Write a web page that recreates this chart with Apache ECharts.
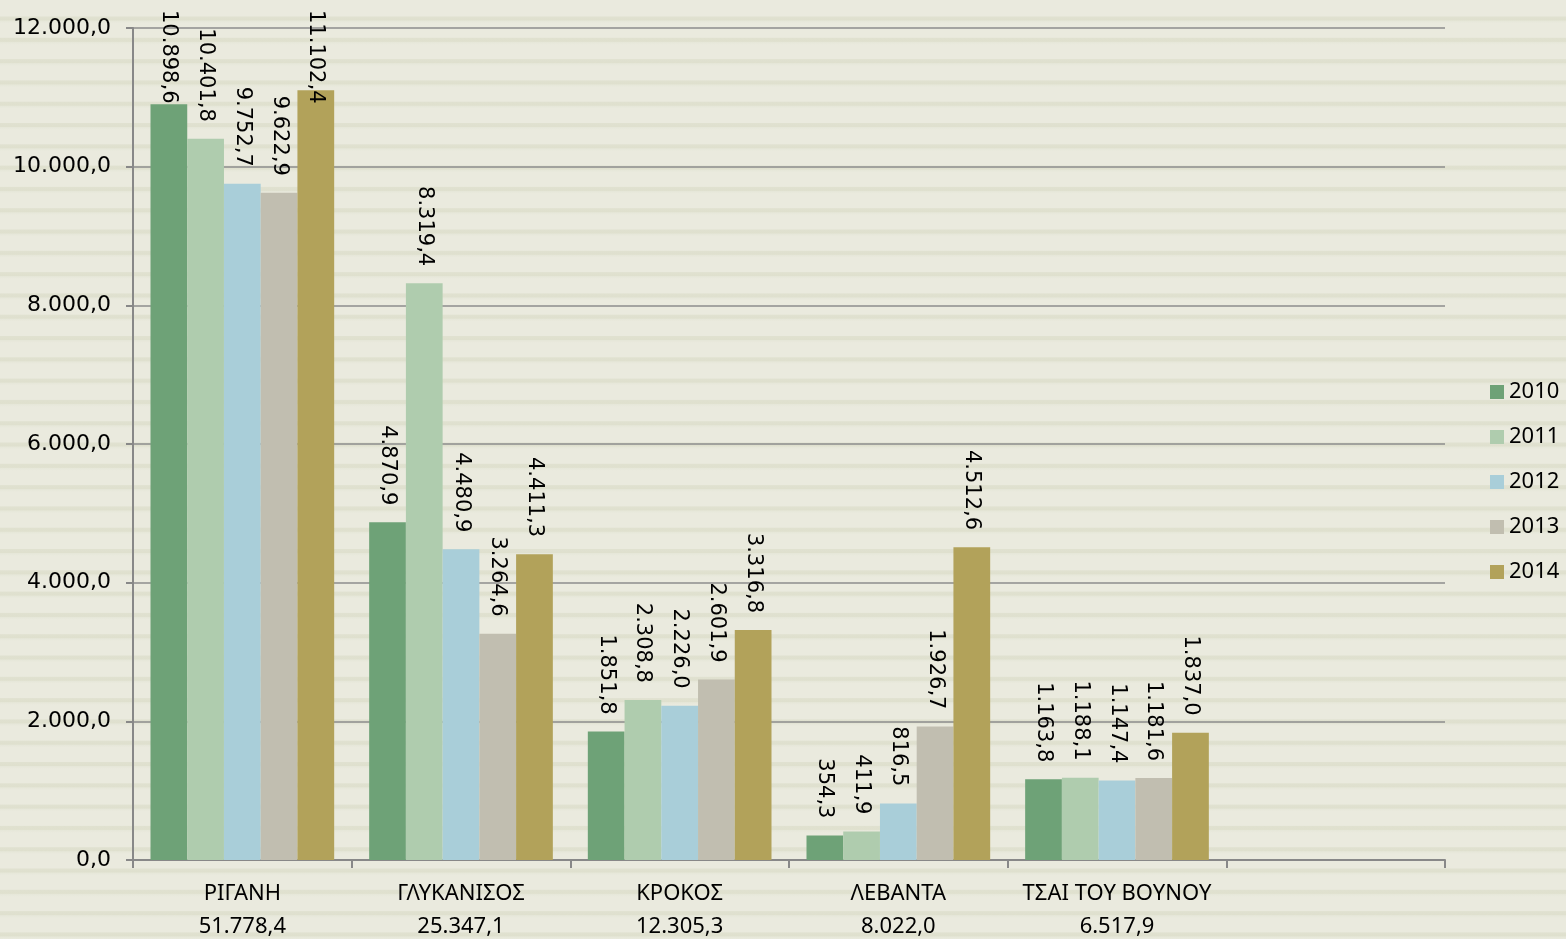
<!DOCTYPE html>
<html>
<head>
<meta charset="utf-8">
<script src="https://cdn.jsdelivr.net/npm/echarts@6/dist/echarts.min.js"></script>
<style>
html,body{margin:0;padding:0;}
body{
  width:1566px;height:939px;overflow:hidden;
  background-color:#EAEADE;
  background-image:repeating-linear-gradient(to bottom,
    #EAEADE 0px, #EAEADE 14px,
    #E0E1D0 15px, #DFE0CE 18px,
    #E6E7D9 19px, #EAEADE 21.3px);
  background-position:0 2px;
}
#chart{width:1566px;height:939px;}
</style>
</head>
<body>
<div id="chart"></div>
<script>
const categories = ['ΡΙΓΑΝΗ', 'ΓΛΥΚΑΝΙΣΟΣ', 'ΚΡΟΚΟΣ', 'ΛΕΒΑΝΤΑ', 'ΤΣΑΙ ΤΟΥ ΒΟΥΝΟΥ', ''];
const totals = [51778.4, 25347.1, 12305.3, 8022.0, 6517.9];
const years = ['2010', '2011', '2012', '2013', '2014'];
const v2010 = [10898.6, 4870.9, 1851.8, 354.3, 1163.8];
const v2011 = [10401.8, 8319.4, 2308.8, 411.9, 1188.1];
const v2012 = [9752.7, 4480.9, 2226.0, 816.5, 1147.4];
const v2013 = [9622.9, 3264.6, 2601.9, 1926.7, 1181.6];
const v2014 = [11102.4, 4411.3, 3316.8, 4512.6, 1837.0];
const yTicks = {min: 0, max: 12000, interval: 2000};

const seriesValues = [v2010, v2011, v2012, v2013, v2014];
const colors = ['#6EA277', '#AFCCAE', '#A9CED9', '#C1BEB0', '#B2A25A'];

function fmt(v) {
  const s = Number(v).toFixed(1);
  const parts = s.split('.');
  const intPart = parts[0].replace(/\B(?=(\d{3})+(?!\d))/g, '.');
  return intPart + ',' + parts[1];
}

const LABEL_DIST = 17;
const TOP_LIMIT = 10;
const LABEL_FONT = '21px "DejaVu Sans"';

const chart = echarts.init(document.getElementById('chart'));

function buildSeries(offsets) {
  return years.map((y, i) => ({
    name: y,
    type: 'bar',
    data: seriesValues[i].map((v, j) => {
      const off = offsets ? offsets[i][j] : 0;
      // label is rotated -90deg, so local x points down the screen
      return off ? {value: v, label: {offset: [off, 0]}} : v;
    }),
    barGap: '0%',
    barCategoryGap: '16%',
    itemStyle: {color: colors[i]},
    label: {
      show: true,
      position: 'top',
      rotate: -90,
      align: 'right',
      verticalAlign: 'middle',
      distance: LABEL_DIST,
      fontFamily: 'DejaVu Sans',
      fontSize: 21,
      color: '#000',
      formatter: p => fmt(p.value)
    }
  }));
}

chart.setOption({
  backgroundColor: 'transparent',
  animation: false,
  grid: {left: 133, right: 121, top: 28, bottom: 79, outerBoundsMode: 'none', containLabel: false},
  legend: {
    data: years,
    orient: 'vertical',
    left: 1485,
    top: 376,
    itemWidth: 14,
    itemHeight: 14,
    itemGap: 23,
    icon: 'rect',
    textStyle: {fontFamily: 'Noto Sans', fontSize: 22, color: '#000'}
  },
  xAxis: {
    type: 'category',
    data: categories,
    axisLine: {lineStyle: {color: '#888', width: 2}},
    axisTick: {show: true, length: 8, lineStyle: {color: '#888', width: 2}},
    axisLabel: {
      interval: 0,
      margin: 17,
      fontFamily: 'Noto Sans',
      fontSize: 22,
      lineHeight: 33,
      color: '#000',
      formatter: (val, idx) => val ? val + '\n' + fmt(totals[idx]) : ''
    }
  },
  yAxis: {
    type: 'value',
    min: yTicks.min,
    max: yTicks.max,
    interval: yTicks.interval,
    axisLine: {show: true, lineStyle: {color: '#888', width: 2}},
    axisTick: {show: true, length: 7, lineStyle: {color: '#888', width: 2}},
    splitLine: {lineStyle: {color: '#8C8C8C', width: 1.5}},
    axisLabel: {
      margin: 22,
      fontFamily: 'DejaVu Sans',
      fontSize: 22,
      color: '#000',
      formatter: v => fmt(v)
    }
  },
  series: buildSeries(null)
});

// Keep labels of tall bars inside the chart (as the original does)
const ctx = document.createElement('canvas').getContext('2d');
ctx.font = LABEL_FONT;
const offsets = seriesValues.map(vals => vals.map((v, j) => {
  const barTop = chart.convertToPixel({gridIndex: 0}, [j, v])[1];
  const len = ctx.measureText(fmt(v)).width;
  const textTop = barTop - LABEL_DIST - len;
  return textTop < TOP_LIMIT ? TOP_LIMIT - textTop : 0;
}));
chart.setOption({series: buildSeries(offsets)});
</script>
</body>
</html>
